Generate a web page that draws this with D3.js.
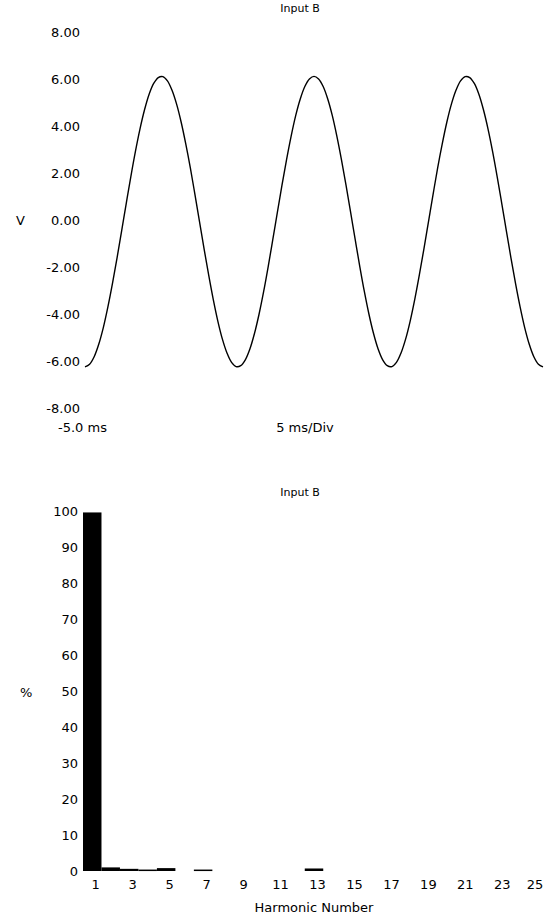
<!DOCTYPE html>
<html>
<head>
<meta charset="utf-8">
<script src="https://cdn.jsdelivr.net/npm/d3@7"></script>
<style>
  body { margin: 0; background: #fff; }
  svg text { font-family: "DejaVu Sans", sans-serif; font-size: 13px; fill: #000; }
</style>
</head>
<body>
<div id="chart"></div>
<script>
// waveform, Input B, one sample every 0.5 ms starting at -5.0 ms
const waveStartMs = -5
const waveStepMs = 0.5
const waveVolts = [
  -6.25, -6.14, -5.82, -5.29, -4.58, -3.70, -2.70, -1.61, -0.46, 0.70,
  1.84, 2.91, 3.87, 4.69, 5.35, 5.81, 6.06, 6.10, 5.92, 5.52,
  4.93, 4.16, 3.24, 2.22, 1.09, -0.07, -1.23, -2.34, -3.38, -4.30,
  -5.07, -5.66, -6.06, -6.24, -6.20, -5.95, -5.49, -4.83, -4.01, -3.05,
  -1.98, -0.84, 0.32, 1.47, 2.56, 3.56, 4.44, 5.15, 5.68, 6.00,
  6.11, 6.00, 5.68, 5.15, 4.44, 3.56, 2.56, 1.47, 0.32, -0.84,
  -1.98, -3.05, -4.01, -4.83, -5.49, -5.95, -6.20, -6.24, -6.06, -5.66,
  -5.07, -4.30, -3.38, -2.34, -1.23, -0.07, 1.09, 2.22, 3.24, 4.16,
  4.93, 5.52, 5.92, 6.10, 6.06, 5.81, 5.35, 4.69, 3.87, 2.91,
  1.84, 0.70, -0.46, -1.61, -2.70, -3.70, -4.58, -5.29, -5.82, -6.14,
  -6.25
]
const voltTicks = [8, 6, 4, 2, 0, -2, -4, -6, -8]
const timeDomain = [-5, 45]

// harmonic spectrum, Input B (% of fundamental)
const harmonicNumbers = d3.range(1, 26)
const harmonicPercent = [
  99.6, 1.0, 0.6, 0.4, 0.8, 0, 0.4, 0, 0, 0,
  0, 0, 0.7, 0, 0, 0, 0, 0, 0, 0,
  0, 0, 0, 0, 0
]
const percentTicks = [100, 90, 80, 70, 60, 50, 40, 30, 20, 10, 0]
const harmonicTicks = [1, 3, 5, 7, 9, 11, 13, 15, 17, 19, 21, 23, 25]

const width = 544
const height = 917

const svg = d3.select('#chart')
  .append('svg')
  .attr('width', width)
  .attr('height', height)

// ---- top: waveform ----
const xTime = d3.scaleLinear()
  .domain(timeDomain)
  .range([85, 543])

const yVolt = d3.scaleLinear()
  .domain([-8, 8])
  .range([408, 32])

const wave = waveVolts.map((v, i) => ({ t: waveStartMs + i * waveStepMs, v }))

const waveLine = d3.line()
  .x(d => xTime(d.t))
  .y(d => yVolt(d.v))
  .curve(d3.curveCatmullRom)

svg.append('path')
  .attr('d', waveLine(wave))
  .attr('fill', 'none')
  .attr('stroke', '#000')
  .attr('stroke-width', 1.4)

const yVoltAxis = svg.append('g')
  .attr('transform', 'translate(80,0)')
  .call(d3.axisLeft(yVolt)
    .tickValues(voltTicks)
    .tickSize(0)
    .tickPadding(0)
    .tickFormat(d => d.toFixed(2)))
yVoltAxis.select('.domain').remove()
yVoltAxis.selectAll('text')
  .attr('font-family', null)
  .attr('font-size', null)

svg.append('text')
  .attr('x', 16)
  .attr('y', yVolt(0))
  .attr('dy', '0.35em')
  .text('V')

svg.append('text')
  .attr('x', 300)
  .attr('y', 12)
  .attr('text-anchor', 'middle')
  .style('font-size', '11px')
  .text('Input B')

svg.append('text')
  .attr('x', 58)
  .attr('y', 432)
  .text('-5.0 ms')

svg.append('text')
  .attr('x', 305)
  .attr('y', 432)
  .attr('text-anchor', 'middle')
  .text('5 ms/Div')

// ---- bottom: harmonic bars ----
const xHarm = d3.scaleLinear()
  .domain([0.5, 25.5])
  .range([83, 545])

const yPct = d3.scaleLinear()
  .domain([0, 100])
  .range([871, 511])

svg.append('g')
  .selectAll('rect')
  .data(harmonicNumbers.map((h, i) => ({ h, p: harmonicPercent[i] })).filter(d => d.p > 0))
  .join('rect')
  .attr('x', d => xHarm(d.h - 0.5))
  .attr('width', d => xHarm(d.h + 0.5) - xHarm(d.h - 0.5))
  .attr('y', d => yPct(d.p))
  .attr('height', d => Math.max(1.5, yPct(0) - yPct(d.p)))
  .attr('fill', '#000')

const yPctAxis = svg.append('g')
  .attr('transform', 'translate(78,0)')
  .call(d3.axisLeft(yPct)
    .tickValues(percentTicks)
    .tickSize(0)
    .tickPadding(0))
yPctAxis.select('.domain').remove()
yPctAxis.selectAll('text')
  .attr('font-family', null)
  .attr('font-size', null)

const xHarmAxis = svg.append('g')
  .attr('transform', 'translate(3,880)')
  .call(d3.axisBottom(xHarm)
    .tickValues(harmonicTicks)
    .tickSize(0)
    .tickPadding(0))
xHarmAxis.select('.domain').remove()
xHarmAxis.selectAll('text')
  .attr('font-family', null)
  .attr('font-size', null)
// last label sits right at the edge, keep it inside
xHarmAxis.selectAll('.tick')
  .filter(d => d === 25)
  .select('text')
  .attr('text-anchor', 'end')
  .attr('dx', 4)

svg.append('text')
  .attr('x', 20)
  .attr('y', 692)
  .attr('dy', '0.35em')
  .text('%')

svg.append('text')
  .attr('x', 300)
  .attr('y', 496)
  .attr('text-anchor', 'middle')
  .style('font-size', '11px')
  .text('Input B')

svg.append('text')
  .attr('x', 314)
  .attr('y', 912)
  .attr('text-anchor', 'middle')
  .text('Harmonic Number')
</script>
</body>
</html>
